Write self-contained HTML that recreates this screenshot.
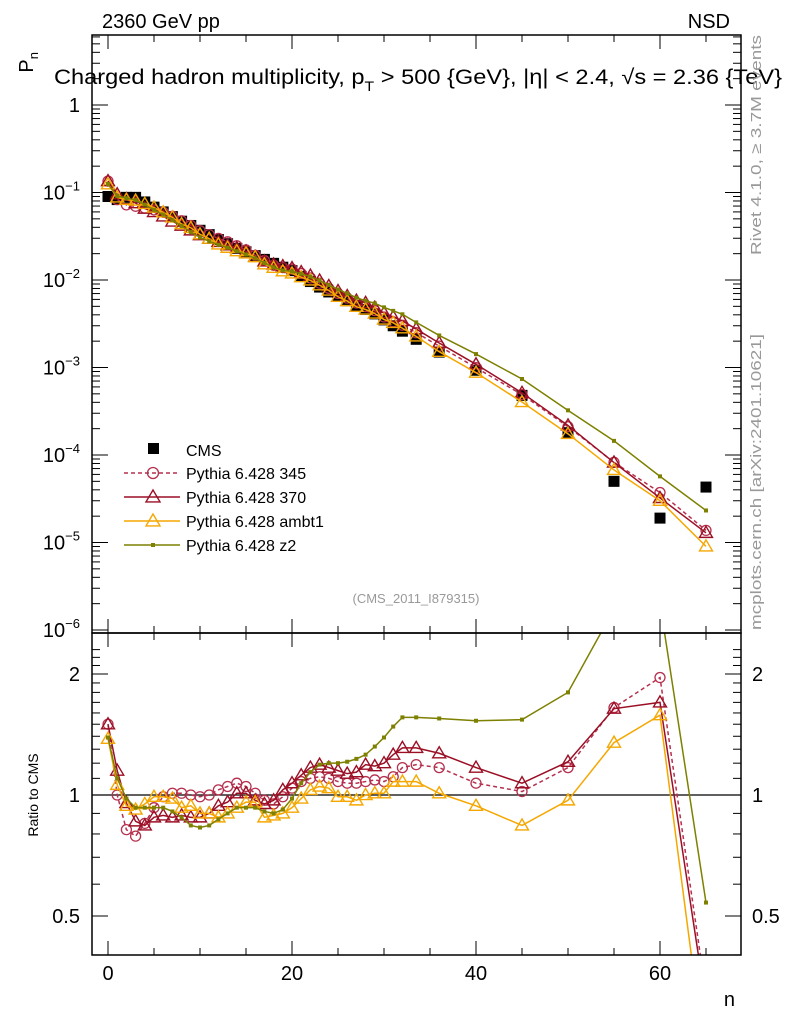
<!DOCTYPE html>
<html><head><meta charset="utf-8"><style>
html,body{margin:0;padding:0;background:#fff;}
svg{display:block;font-family:"Liberation Sans",sans-serif;}
</style></head><body>
<svg id="chart" width="786" height="1024" viewBox="0 0 786 1024" xmlns="http://www.w3.org/2000/svg">
<defs>
<clipPath id="clipMain"><rect x="92" y="35" width="649" height="598"/></clipPath>
<clipPath id="clipRatio"><rect x="92" y="633" width="649" height="322"/></clipPath>
</defs>
<text x="102" y="28" font-size="20">2360 GeV pp</text>
<text x="730" y="28" font-size="20" text-anchor="end">NSD</text>
<text transform="translate(33,52) rotate(-90)" font-size="20" text-anchor="end">P<tspan font-size="13" dy="5">n</tspan></text>
<text x="54" y="84" font-size="21" textLength="728" lengthAdjust="spacingAndGlyphs">Charged hadron multiplicity, p<tspan font-size="14" dy="7">T</tspan><tspan dy="-7"> &gt; 500 {GeV}, |η| &lt; 2.4, √s = 2.36 {TeV}</tspan></text>
<text transform="translate(761,255) rotate(-90)" font-size="15" fill="#999" textLength="220" lengthAdjust="spacingAndGlyphs">Rivet 4.1.0, ≥ 3.7M events</text>
<text transform="translate(761,630) rotate(-90)" font-size="15" fill="#999" textLength="296" lengthAdjust="spacingAndGlyphs">mcplots.cern.ch [arXiv:2401.10621]</text>
<text x="416" y="603" font-size="13" fill="#999" text-anchor="middle">(CMS_2011_I879315)</text>
<text transform="translate(38,795) rotate(-90)" font-size="14" text-anchor="middle">Ratio to CMS</text>
<text x="735" y="1006" font-size="20" text-anchor="end">n</text>
<g id="axes"></g>
<g id="mainMarks" clip-path="url(#clipMain)"></g>
<g id="ratioMarks" clip-path="url(#clipRatio)"></g>
<g id="legend"></g>
<rect x="92" y="35" width="649" height="598" fill="none" stroke="#000" stroke-width="1.5"/>
<rect x="92" y="633" width="649" height="322" fill="none" stroke="#000" stroke-width="1.5"/>
</svg>
<script>
const nVals=[0,1,2,3,4,5,6,7,8,9,10,11,12,13,14,15,16,17,18,19,20,21,22,23,24,25,26,27,28,29,30,31,32,33.5,36,40,45,50,55,60,65];
const cmsVals=[0.090,0.083,0.088,0.088,0.078,0.068,0.060,0.053,0.047,0.042,0.037,0.033,0.029,0.026,0.023,0.021,0.019,0.0172,0.0155,0.0140,0.0128,0.0110,0.0096,0.0083,0.0073,0.0065,0.0058,0.0051,0.0046,0.0041,0.0035,0.0030,0.0026,0.0021,0.0015,0.00093,0.00048,0.00018,0.00005,0.000019,0.000043];
const r345=[1.50,1.0,0.82,0.79,0.85,0.93,0.99,1.01,1.01,1.0,0.99,1.0,1.03,1.05,1.07,1.05,1.01,0.97,0.95,0.99,1.04,1.08,1.10,1.11,1.10,1.08,1.07,1.07,1.08,1.09,1.08,1.11,1.17,1.19,1.17,1.07,1.02,1.17,1.65,1.96,0.32];
const r370=[1.50,1.15,0.955,0.86,0.84,0.88,0.89,0.88,0.89,0.88,0.88,0.90,0.94,0.96,1.01,1.01,0.97,0.95,0.97,1.03,1.07,1.12,1.17,1.19,1.17,1.15,1.13,1.14,1.19,1.18,1.20,1.26,1.31,1.31,1.27,1.17,1.07,1.21,1.64,1.70,0.30];
const rAmbt1=[1.38,1.06,0.94,0.92,0.95,0.99,0.99,0.98,0.93,0.94,0.90,0.90,0.88,0.90,0.93,0.96,0.96,0.88,0.89,0.90,0.93,0.98,1.03,1.05,1.04,0.99,0.99,0.97,1.0,1.01,1.01,1.08,1.08,1.08,1.01,0.94,0.84,0.97,1.35,1.58,0.21];
const rZ2=[1.39,1.10,0.98,0.93,0.93,0.93,0.93,0.91,0.88,0.84,0.83,0.84,0.87,0.90,0.93,0.93,0.93,0.91,0.90,0.92,0.98,1.07,1.14,1.19,1.20,1.20,1.21,1.23,1.26,1.32,1.39,1.48,1.56,1.56,1.55,1.53,1.54,1.80,2.9,3.0,0.54];
const xTicks=[0,20,40,60];
const logTicks=[0,-1,-2,-3,-4,-5,-6];
const ratioTicks=[0.5,1,2];

const NS='http://www.w3.org/2000/svg';
const X=n=>108+n*9.2;
const Y=v=>105-87.5*Math.log10(v);
const YR=r=>795-121*Math.log2(r);
function el(tag,attrs,parent){const e=document.createElementNS(NS,tag);for(const k in attrs)e.setAttribute(k,attrs[k]);parent.appendChild(e);return e;}
const axes=document.getElementById('axes');
for(let n=0;n<=70;n+=5){const x=X(n);if(x>741)break;const major=xTicks.includes(n);const L=major?14:7;
 for(const [yb,dir] of [[633,-1],[35,1],[955,-1],[633,1]]){const t=el('line',{x1:x,x2:x,y1:yb,y2:yb+dir*L,stroke:'#000','stroke-width':1},axes);
 
 }}
xTicks.forEach(n=>{const t=el('text',{x:X(n),y:980,'font-size':20,'text-anchor':'middle'},axes);t.textContent=n;
 
 });
logTicks.forEach(p=>{for(let m=1;m<10;m++){const v=m*Math.pow(10,p);const y=Y(v);if(y<35||y>633)continue;const L=m===1?16:8;
 el('line',{x1:92,x2:92+L,y1:y,y2:y,stroke:'#000'},axes);el('line',{x1:741,x2:741-L,y1:y,y2:y,stroke:'#000'},axes);}
 const y=Y(Math.pow(10,p));const t=el('text',{x:80,y:y+7,'font-size':20,'text-anchor':'end'},axes);
 
 
 if(p===0)t.textContent='1';else{t.textContent='10';const s=el('tspan',{dy:-9,'font-size':13},t);s.textContent=String(p).replace('-','−');}});
for(let r=0.4;r<=2.31;r+=0.1){const y=YR(r);if(y<633||y>955)continue;const maj=ratioTicks.some(t=>Math.abs(t-r)<1e-6);const L=maj?16:8;
 el('line',{x1:92,x2:92+L,y1:y,y2:y,stroke:'#000'},axes);el('line',{x1:741,x2:741-L,y1:y,y2:y,stroke:'#000'},axes);}
ratioTicks.forEach(r=>{const y=YR(r);for(const [x,a] of [[80,'end'],[752,'start']]){const t=el('text',{x:x,y:y+7,'font-size':20,'text-anchor':a},axes);t.textContent=String(r);
 
 }});
const one=el('line',{x1:92,x2:741,y1:YR(1),y2:YR(1),stroke:'#000','stroke-width':1.2},axes);



const series=[
 {name:'pythia-345',r:r345,color:'#b5304e',dash:'4,3',marker:'circle',label:'Pythia 6.428 345'},
 {name:'pythia-370',r:r370,color:'#9b0f25',dash:'',marker:'tri',label:'Pythia 6.428 370'},
 {name:'pythia-ambt1',r:rAmbt1,color:'#f5a700',dash:'',marker:'tri',label:'Pythia 6.428 ambt1'},
 {name:'pythia-z2',r:rZ2,color:'#7d8000',dash:'',marker:'dot',label:'Pythia 6.428 z2'}];
function marker(g,type,x,y,c,big){
 if(type==='circle')return el('circle',{cx:x,cy:y,r:big?5.5:5,fill:'none',stroke:c,'stroke-width':1.3},g);
 if(type==='tri'){const s=big?7:6.5;return el('polygon',{points:`${x},${y-s} ${x-s},${y+s*0.7} ${x+s},${y+s*0.7}`,fill:'none',stroke:c,'stroke-width':1.4},g);}
 return el('rect',{x:x-2,y:y-2,width:4,height:4,fill:c},g);}
const mainG=document.getElementById('mainMarks'),ratioG=document.getElementById('ratioMarks');
const cmsG=el('g',{},mainG);


nVals.forEach((n,i)=>{const p=el('rect',{x:X(n)-5.5,y:Y(cmsVals[i])-5.5,width:11,height:11,fill:'#000'},cmsG);
 
 });
series.forEach(s=>{
 const gm=el('g',{},mainG);
 
 
 const gr=el('g',{},ratioG);
 
 
 const pm=nVals.map((n,i)=>X(n)+','+Y(cmsVals[i]*s.r[i])).join(' ');
 const pr=nVals.map((n,i)=>X(n)+','+YR(s.r[i])).join(' ');
 el('polyline',{points:pm,fill:'none',stroke:s.color,'stroke-width':1.5,'stroke-dasharray':s.dash},gm);
 el('polyline',{points:pr,fill:'none',stroke:s.color,'stroke-width':1.5,'stroke-dasharray':s.dash},gr);
 nVals.forEach((n,i)=>{const a=marker(gm,s.marker,X(n),Y(cmsVals[i]*s.r[i]),s.color);
  
  
  const b=marker(gr,s.marker,X(n),YR(s.r[i]),s.color);
  
  });
});
const lg=document.getElementById('legend');
const e0=el('g',{},lg);


el('rect',{x:148,y:443,width:11,height:11,fill:'#000'},e0);
const t0=el('text',{x:186,y:456,'font-size':16},e0);t0.textContent='CMS';
series.forEach((s,i)=>{const y=473+24*i;const g=el('g',{},lg);
 
 
 el('line',{x1:124,x2:180,y1:y,y2:y,stroke:s.color,'stroke-width':1.5,'stroke-dasharray':s.dash},g);
 marker(g,s.marker,153,y,s.color,true);
 const t=el('text',{x:186,y:y+6,'font-size':16},g);t.textContent=s.label;});
</script>
</body></html>
